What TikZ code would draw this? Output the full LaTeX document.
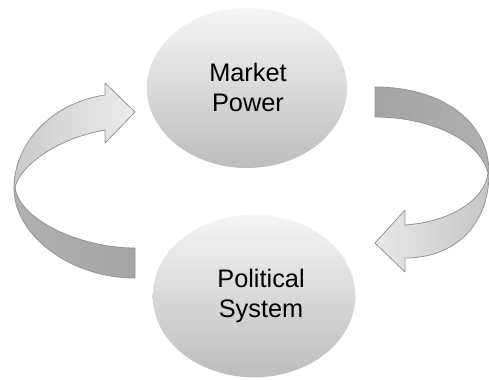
\documentclass[tikz,border=0pt]{standalone}
\usepackage{fontspec}
\setmainfont{Liberation Sans}
\usetikzlibrary{shapes.geometric}

\tikzset{
  bubble/.style={ellipse, inner sep=0pt, top color=gray!8, bottom color=gray!52, draw=none},
  bubbletext/.style={align=center, font=\fontsize{19}{22.5}\selectfont, inner sep=0.75pt},
  ribbon/.style={draw=gray!85, line width=0.6pt, line join=round}
}

\begin{document}
\begin{tikzpicture}[x=0.75pt,y=0.75pt,yscale=-1,xscale=1]
\useasboundingbox (0,0) rectangle (489,379);

%Ellipse: market power
\node [bubble, minimum width=150pt, minimum height=120pt] (market) at (247,88) {};
%Ellipse: political system
\node [bubble, minimum width=152pt, minimum height=122pt] (politics) at (254,296) {};

% Text Node
\node [bubbletext] (marketlbl) at (248,87) {Market\\Power};
% Text Node
\node [bubbletext] (politicslbl) at (261,296) {Political\\System};

%Curved arrow left, lower half (tail)
\draw [ribbon, left color=gray!62, right color=gray!70]  (14,188) .. controls (14,235) and (70,278) .. (135,278) -- (135,248) .. controls (80,248) and (20,220) .. (15,188) -- cycle ;
%Curved arrow left, upper half (head)
\draw [ribbon, left color=gray!42, right color=gray!15]  (14,188) .. controls (14,145) and (50,103) .. (105,95) -- (105,83) -- (135,112) -- (105,143) -- (105,130) .. controls (50,140) and (18,170) .. (15,188) -- cycle ;

%Curved arrow right, upper half (tail)
\draw [ribbon, left color=gray!72, right color=gray!62]  (375,87) .. controls (440,87) and (489,120) .. (489,173) -- (488,173) .. controls (480,140) and (430,117) .. (375,117) -- cycle ;
%Curved arrow right, lower half (head)
\draw [ribbon, right color=gray!45, left color=gray!18]  (489,173) .. controls (489,225) and (455,258) .. (405,258) -- (405,272) -- (375,243) -- (405,210) -- (405,225) .. controls (450,222) and (485,200) .. (488,173) -- cycle ;

\end{tikzpicture}
\end{document}
